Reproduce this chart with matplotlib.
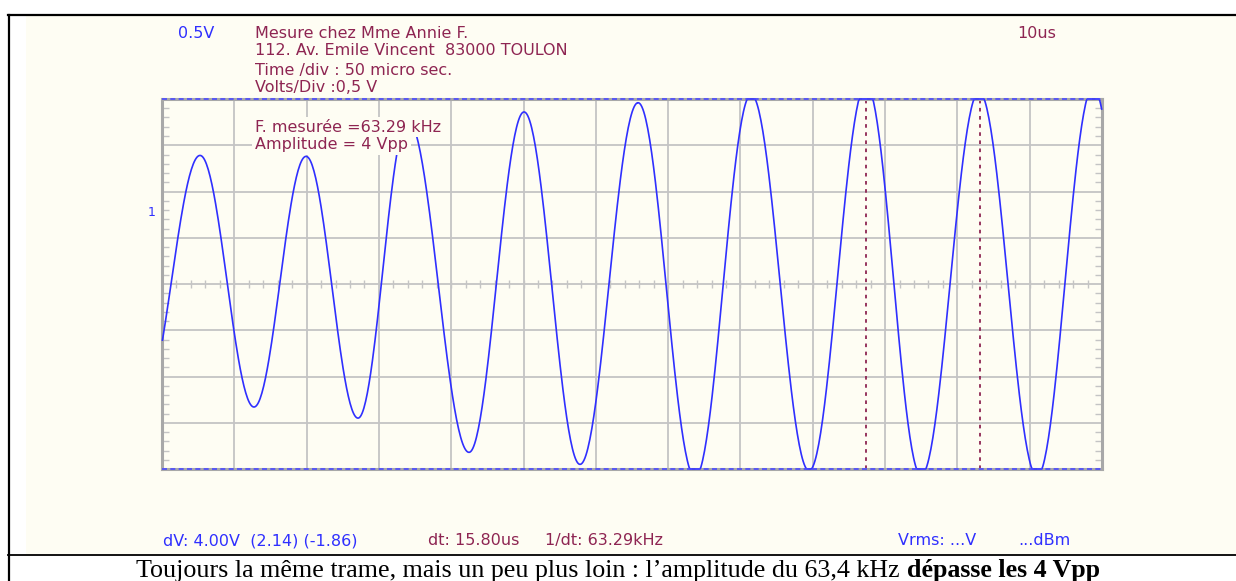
import numpy as np
import matplotlib
matplotlib.use("Agg")
import matplotlib.pyplot as plt
from matplotlib.ticker import MultipleLocator

# ─── Données lues sur l'écran de l'oscillo ───────────────────────────────────
# temps en µs (10 µs/div, 13 div), tension en V (0,5 V/div, 8 div)
peak_t = [5.26, 19.92, 34.0, 50.07, 65.84, 81.47, 97.37, 113.0, 128.77]
peak_v = [1.39, 1.38, 1.78, 1.86, 1.96, 2.05, 2.16, 2.08, 2.13]
trough_t = [-2.6, 12.72, 27.11, 42.46, 57.81, 73.72, 89.49, 104.98, 121.02, 136.5]
trough_v = [-1.30, -1.33, -1.45, -1.82, -1.95, -2.09, -2.02, -2.07, -2.08, -2.10]
cursors_t = [97.3, 113.1]

header_lines = ["Mesure chez Mme Annie F.",
                "112. Av. Emile Vincent  83000 TOULON",
                "Time /div : 50 micro sec.",
                "Volts/Div :0,5 V"]
info_lines = ["F. mesurée =63.29 kHz", "Amplitude = 4 Vpp"]
caption_txt = "Toujours la même trame, mais un peu plus loin : l’amplitude du 63,4 kHz "
caption_bold = "dépasse les 4 Vpp"

W, H = 1236, 581
CREAM = "#fefdf3"
BLUE = "#2f2fff"
MAROON = "#8e2552"
GRID = "#c4c4c4"

# ─── Trace : segments demi-cosinus entre les extrêmes lus ────────────────────
ext = sorted(zip(peak_t + trough_t, peak_v + trough_v))
tt, vv = [], []
for (t0, v0), (t1, v1) in zip(ext[:-1], ext[1:]):
    s = np.linspace(0, 1, 60)
    tt.append(t0 + (t1 - t0) * s)
    vv.append(v0 + (v1 - v0) * (1 - np.cos(np.pi * s)) / 2)
tt = np.concatenate(tt)
vv = np.clip(np.concatenate(vv), -2, 2)
keep = (tt >= 0) & (tt <= 130)
tt, vv = tt[keep], vv[keep]

fig = plt.figure(figsize=(W / 100, H / 100), dpi=100)
fig.patch.set_facecolor("white")

# fond crème (derrière l'écran)
back = fig.add_axes([0, 0, 1, 1], zorder=0)
back.set_xlim(0, W)
back.set_ylim(H, 0)
back.axis("off")
back.add_patch(plt.Rectangle((26, 16), W - 26, 538, facecolor=CREAM, edgecolor="none"))

# ─── Écran ───────────────────────────────────────────────────────────────────
ax = fig.add_axes([162 / W, (H - 469) / H, 940 / W, 370 / H], zorder=1)
ax.set_facecolor(CREAM)
ax.set_xlim(0, 130)
ax.set_ylim(-2, 2)
ax.xaxis.set_major_locator(MultipleLocator(10))
ax.yaxis.set_major_locator(MultipleLocator(0.5))
ax.yaxis.set_minor_locator(MultipleLocator(0.1))
ax.grid(True, which="major", color=GRID, lw=1.3, zorder=0)
ax.tick_params(which="major", length=0, labelbottom=False, labelleft=False)
ax.tick_params(which="minor", axis="y", direction="in", length=5, width=1,
               color=GRID, left=True, right=True)
ax.tick_params(which="minor", axis="x", length=0)
for sp in ax.spines.values():
    sp.set_color("#a8a8a8")
    sp.set_linewidth(2.2)

# graduations sur l'axe central
ax.plot(np.arange(2, 130, 2), np.zeros(64), ls="none", marker="|",
        ms=6, mew=1, color=GRID, zorder=1)

for t in cursors_t:
    ax.axvline(t, color=MAROON, lw=1.3, ls=(0, (2, 2.5)), zorder=2)

ax.plot(tt, vv, color=BLUE, lw=1.2, zorder=3, clip_on=False)
for yv in (-2, 2):
    ax.axhline(yv, color="#4a4aff", lw=1.2, ls=(0, (3, 2)), zorder=4, clip_on=False)

# textes et cadre, au premier plan, en coordonnées pixels
fg = fig.add_axes([0, 0, 1, 1], zorder=2)
fg.set_xlim(0, W)
fg.set_ylim(H, 0)
fg.axis("off")
fg.plot([8, W], [15, 15], color="black", lw=1.6)
fg.plot([9, 9], [15, H], color="black", lw=1.6)
fg.plot([8, W], [555, 555], color="black", lw=1.3)

sans = "DejaVu Sans"
fs = 11.5
fg.text(178, 37.5, "0.5V", color=BLUE, fontsize=fs, family=sans)
fg.text(1017, 37.5, "10us", color=MAROON, fontsize=fs, family=sans)
for y, line in zip([37.5, 55, 74.5, 92.5], header_lines):
    fg.text(255, y, line, color=MAROON, fontsize=fs, family=sans)
fg.text(148, 216, "1", color=BLUE, fontsize=9, family=sans)

for y, line in zip([131.7, 149], info_lines):
    fg.text(255, y, line, color=MAROON, fontsize=fs, family=sans,
            bbox=dict(facecolor=CREAM, edgecolor="none", pad=1.8))

fg.text(163, 545, "dV: 4.00V  (2.14) (-1.86)", color=BLUE, fontsize=fs, family=sans)
fg.text(428, 545, "dt: 15.80us", color=MAROON, fontsize=fs, family=sans)
fg.text(545, 545, "1/dt: 63.29kHz", color=MAROON, fontsize=fs, family=sans)
fg.text(898, 545, "Vrms: ...V", color=BLUE, fontsize=fs, family=sans)
fg.text(1018, 545, "...dBm", color=BLUE, fontsize=fs, family=sans)

# ─── Légende sous l'image ───────────────────────────────────────────────────
serif = "Liberation Serif"
t1 = fg.text(0, 577, caption_txt, fontsize=18.7, family=serif, color="black")
t2 = fg.text(0, 577, caption_bold, fontsize=18.7, family=serif, color="black",
             weight="bold")
fig.canvas.draw()
r = fig.canvas.get_renderer()
w1 = t1.get_window_extent(r).width
w2 = t2.get_window_extent(r).width
x0 = W / 2 - (w1 + w2) / 2
t1.set_x(x0)
t2.set_x(x0 + w1)

fig.savefig("out.png", dpi=100, facecolor="white")
